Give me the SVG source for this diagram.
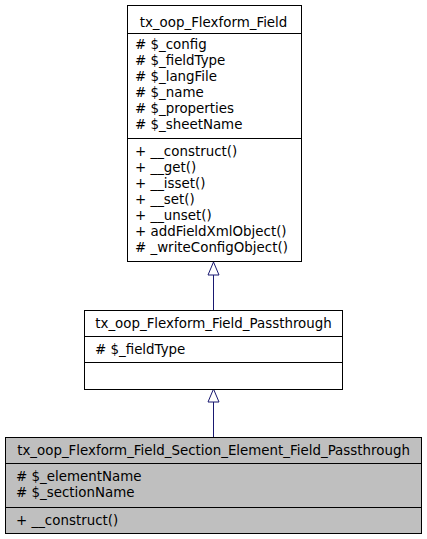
<svg xmlns="http://www.w3.org/2000/svg" width="427" height="539" viewBox="0 0 427 539">
<style>
.box{fill:#ffffff;stroke:#000000;stroke-width:1}
.cur{fill:#bfbfbf}
.div{stroke:#000000;stroke-width:1}
text{font-family:"DejaVu Sans",sans-serif;font-size:13.4px;fill:#000000}
.t{text-anchor:middle}
.edge{stroke:#191970;stroke-width:1;fill:none}
.head{fill:#ffffff;stroke:#191970;stroke-width:1}
</style>
<rect width="427" height="539" fill="#ffffff"/>
<g id="connectors">
<line class="edge" x1="213.5" y1="275" x2="213.5" y2="310"/>
<polygon class="head" points="213.5,262 208,275 219,275"/>
<line class="edge" x1="213.5" y1="402" x2="213.5" y2="437"/>
<polygon class="head" points="213.5,389 208,402 219,402"/>
</g>
<g id="node-field">
<rect class="box" x="127.5" y="5.5" width="174" height="256"/>
<line class="div" x1="127.5" y1="33.5" x2="301.5" y2="33.5"/>
<line class="div" x1="127.5" y1="138.5" x2="301.5" y2="138.5"/>
<text class="t" x="213.5" y="27">tx_oop_Flexform_Field</text>
<text x="135" y="49">#  $_config</text>
<text x="135" y="65">#  $_fieldType</text>
<text x="135" y="81">#  $_langFile</text>
<text x="135" y="97">#  $_name</text>
<text x="135" y="113">#  $_properties</text>
<text x="135" y="129">#  $_sheetName</text>
<text x="135" y="156">+  __construct()</text>
<text x="135" y="172">+  __get()</text>
<text x="135" y="188">+  __isset()</text>
<text x="135" y="204">+  __set()</text>
<text x="135" y="220">+  __unset()</text>
<text x="135" y="236">+  addFieldXmlObject()</text>
<text x="135" y="252">#  _writeConfigObject()</text>
</g>
<g id="node-passthrough">
<rect class="box" x="84.5" y="310.5" width="258" height="79"/>
<line class="div" x1="84.5" y1="336.5" x2="342.5" y2="336.5"/>
<line class="div" x1="84.5" y1="362.5" x2="342.5" y2="362.5"/>
<text class="t" x="213.5" y="328">tx_oop_Flexform_Field_Passthrough</text>
<text x="95" y="354">#  $_fieldType</text>
</g>
<g id="node-section-element">
<rect class="box cur" x="5.5" y="437.5" width="416" height="96"/>
<line class="div" x1="5.5" y1="463.5" x2="421.5" y2="463.5"/>
<line class="div" x1="5.5" y1="507.5" x2="421.5" y2="507.5"/>
<text class="t" x="213.5" y="455">tx_oop_Flexform_Field_Section_Element_Field_Passthrough</text>
<text x="16" y="481">#  $_elementName</text>
<text x="16" y="497">#  $_sectionName</text>
<text x="16" y="525">+  __construct()</text>
</g>
</svg>
